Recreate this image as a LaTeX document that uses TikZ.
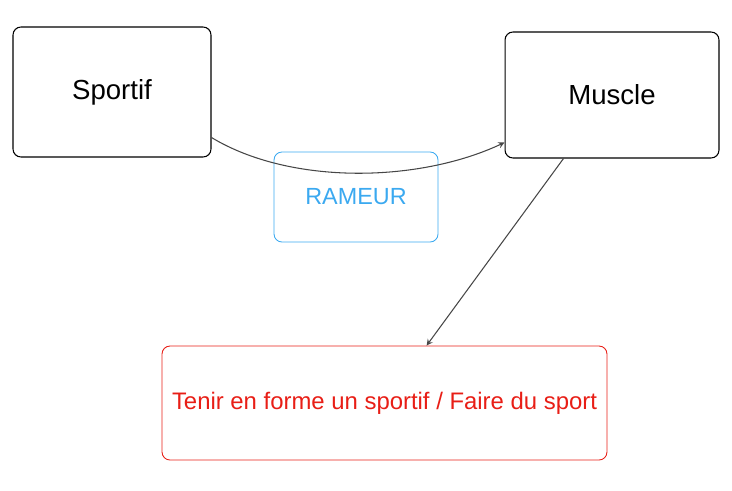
\documentclass[tikz,border=0pt]{standalone}
\usepackage{fontspec}
\setmainfont{Liberation Sans}
\usetikzlibrary{calc,arrows}
\definecolor{rameurblue}{RGB}{59,169,240}
\definecolor{butred}{RGB}{232,30,22}
\definecolor{flechegray}{RGB}{70,70,70}
\tikzset{
	boite/.style={draw, rounded corners=4.5pt, line width=0.6pt, align=center},
	fleche/.style={-stealth, flechegray, line width=0.6pt}
}
\begin{document}
\begin{tikzpicture}[x=0.02cm, y=-0.02cm]
			\useasboundingbox (0,0) rectangle (732,490);
			\node[boite, black, minimum width=3.96cm, minimum height=2.6cm, font=\fontsize{15.7}{18}\selectfont] (sportif) at (112,92) {Sportif};
			\node[boite, black, minimum width=4.28cm, minimum height=2.52cm, font=\fontsize{15.7}{18}\selectfont] (muscle) at (612,95) {Muscle};
			\node[boite, rameurblue, line width=0.5pt, minimum width=3.28cm, minimum height=1.8cm, font=\fontsize{13.3}{16}\selectfont] (rameur) at (356,197) {RAMEUR};
			\node[boite, butred, line width=0.5pt, minimum width=8.9cm, minimum height=2.28cm, font=\fontsize{13.6}{16}\selectfont] (but) at (384.5,403) {Tenir en forme un sportif / Faire du sport};
			\draw[fleche] ($(sportif.south east)+(0,-20)$) .. controls (290,185) and (418,183) .. ($(muscle.south west)+(0,-16)$);
			\draw[fleche] ($(muscle.south west)+(59,0)$) -- ($(but.north west)+(265,0)$);
			\end{tikzpicture}
\end{document}
